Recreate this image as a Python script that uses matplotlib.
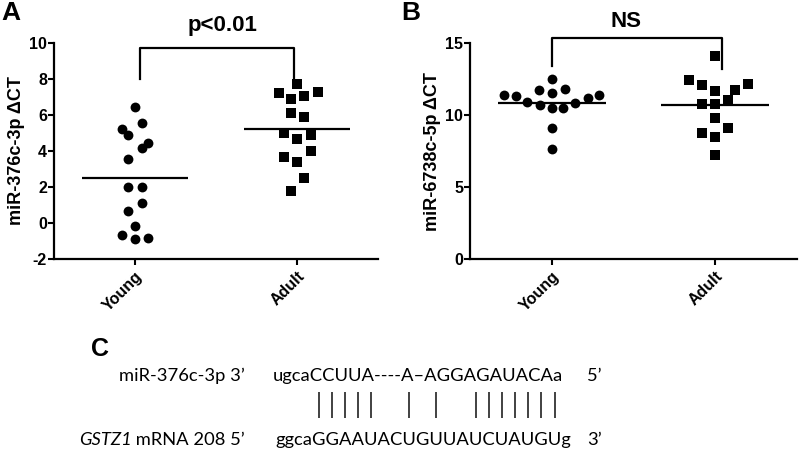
import numpy as np
import matplotlib
matplotlib.use("Agg")
import matplotlib.pyplot as plt
from matplotlib.font_manager import FontProperties

# panel A: miR-376c-3p delta CT
groups = ["Young", "Adult"]
a_young = [6.46, 5.54, 5.21, 4.89, 4.43, 4.18, 3.56, 2.02, 1.98, 1.09, 0.67, -0.17, -0.67, -0.91, -0.82]
a_adult = [7.21, 7.72, 6.87, 7.06, 7.26, 6.09, 5.87, 4.98, 4.67, 4.89, 3.68, 4.02, 3.37, 2.48, 1.78]
# horizontal spread of dots (scatter dot plot layout)
a_young_dx = [0, 0.041, -0.083, -0.041, 0.083, 0.041, -0.041, -0.041, 0.041, 0.041, -0.041, 0, -0.083, 0, 0.083]
a_adult_dx = [-0.11, 0, -0.04, 0.045, 0.13, -0.04, 0.045, -0.08, 0, 0.085, -0.08, 0.085, 0, 0.045, -0.04]

# panel B: miR-6738c-5p delta CT
b_young = [12.55, 11.39, 11.32, 10.92, 11.74, 10.69, 11.55, 10.47, 11.83, 10.47, 10.85, 11.2, 11.39, 9.08, 7.62]
b_adult = [14.1, 12.43, 12.13, 11.69, 11.78, 12.2, 10.81, 10.76, 11.04, 9.77, 8.73, 9.12, 8.45, 7.22]
b_young_dx = [0, -0.29, -0.22, -0.15, -0.08, -0.07, 0, 0, 0.08, 0.07, 0.145, 0.22, 0.29, 0, 0]
b_adult_dx = [0, -0.16, -0.08, 0, 0.12, 0.20, -0.08, 0, 0.08, 0, -0.08, 0.08, 0, 0]

# panel C: seed pairing
mir_name = "miR-376c-3p 3\u2019"
mir_seq = "ugcaCCUUA----A\u2013AGGAGAUACAa"
target_gene = "GSTZ1"
target_rest = " mRNA 208 5\u2019"
target_seq = "ggcaGGAAUACUGUUAUCUAUGUg"
pairing = "    |||||  | |  ||||||| "

plt.rcParams["font.family"] = ["Liberation Sans", "DejaVu Sans"]
plt.rcParams["font.weight"] = "bold"
plt.rcParams["axes.unicode_minus"] = False

fig = plt.figure(figsize=(8, 4.49), dpi=100)

# full-figure pixel axes for panel C and the panel letters
axc = fig.add_axes([0, 0, 1, 1])
axc.set_xlim(0, 800)
axc.set_ylim(449, 0)
axc.axis("off")


def dot_panel(ax, young, adult, ydx, adx, ylim, yticks, ylabel):
    ax.scatter(np.array(ydx) + 0, young, s=50, marker="o", color="black", clip_on=False, zorder=3, linewidths=0)
    ax.scatter(np.array(adx) + 1, adult, s=44, marker="s", color="black", clip_on=False, zorder=3, linewidths=0)
    for i, vals in enumerate([young, adult]):
        ax.hlines(np.mean(vals), i - 0.33, i + 0.33, color="black", lw=1.6, zorder=2)
    ax.set_xlim(-0.5, 1.5)
    ax.set_ylim(*ylim)
    ax.set_yticks(yticks)
    ax.set_xticks([0, 1])
    ax.set_xticklabels(groups, rotation=45, ha="right", rotation_mode="anchor",
                       fontsize=11.5, fontweight="bold")
    ax.tick_params(axis="y", labelsize=11.5, width=1.5, length=4, pad=1)
    ax.tick_params(axis="x", width=1.5, length=4, pad=3)
    for lbl in ax.get_yticklabels():
        lbl.set_fontweight("bold")
    for s in ["top", "right"]:
        ax.spines[s].set_visible(False)
    for s in ["left", "bottom"]:
        ax.spines[s].set_linewidth(1.6)
    ax.set_ylabel(ylabel, fontsize=13, fontweight="bold", labelpad=3)


axA = fig.add_axes([0.0675, 0.4232, 0.405, 0.481])
dot_panel(axA, a_young, a_adult, a_young_dx, a_adult_dx, (-2, 10), [-2, 0, 2, 4, 6, 8, 10],
          "miR-376c-3p \u0394CT")
axA.plot([0.03, 0.03, 0.98, 0.98], [8.0, 9.7, 9.7, 8.0], color="black", lw=1.6, clip_on=False)
axA.text(0.54, 11.0, "p<0.01", ha="center", va="center", fontsize=16, fontweight="bold")

axB = fig.add_axes([0.5875, 0.4232, 0.40875, 0.4804])
dot_panel(axB, b_young, b_adult, b_young_dx, b_adult_dx, (0, 15), [0, 5, 10, 15],
          "miR-6738c-5p \u0394CT")
axB.plot([0.0, 0.0, 1.04, 1.04], [13.4, 15.4, 15.4, 13.2], color="black", lw=1.6, clip_on=False)
axB.text(0.456, 16.5, "NS", ha="center", va="center", fontsize=16, fontweight="bold")

# panel letters
axc.text(1, 13, "A", fontsize=19, fontweight="bold", va="center", ha="left")
axc.text(401, 13, "B", fontsize=19, fontweight="bold", va="center", ha="left")
axc.text(91, 349, "C", fontsize=18, fontweight="bold", va="center", ha="left")

# panel C sequences
seq_size = 13.2
seq_font = dict(family=["Lato", "DejaVu Sans"], fontweight="normal", fontsize=seq_size)
axc.text(245, 376, mir_name, ha="right", va="center", **seq_font)
rest = axc.text(245, 440, target_rest, ha="right", va="center", **seq_font)
axc.annotate(target_gene, xy=(0, 0.5), xycoords=rest, ha="right", va="center",
             style="italic", **seq_font)
axc.text(273, 376, mir_seq, ha="left", va="center", **seq_font)
axc.text(275, 440, target_seq, ha="left", va="center", **seq_font)
axc.text(587, 376, "5\u2019", ha="left", va="center", **seq_font)
axc.text(587, 440, "3\u2019", ha="left", va="center", **seq_font)

# pairing bars under the paired bases of the target sequence
renderer = fig.canvas.get_renderer()
prop = FontProperties(family=["Lato", "DejaVu Sans"], weight="normal", size=seq_size)


def text_width(s):
    if not s:
        return 0.0
    w, h, d = renderer.get_text_width_height_descent(s, prop, ismath=False)
    return w


bar_x = []
for i, ch in enumerate(pairing):
    if ch == "|":
        bar_x.append(275 + (text_width(target_seq[:i]) + text_width(target_seq[:i + 1])) / 2)
axc.vlines(bar_x, 392, 418, color="#333333", lw=1.3)

fig.savefig("out.png", dpi=100)
